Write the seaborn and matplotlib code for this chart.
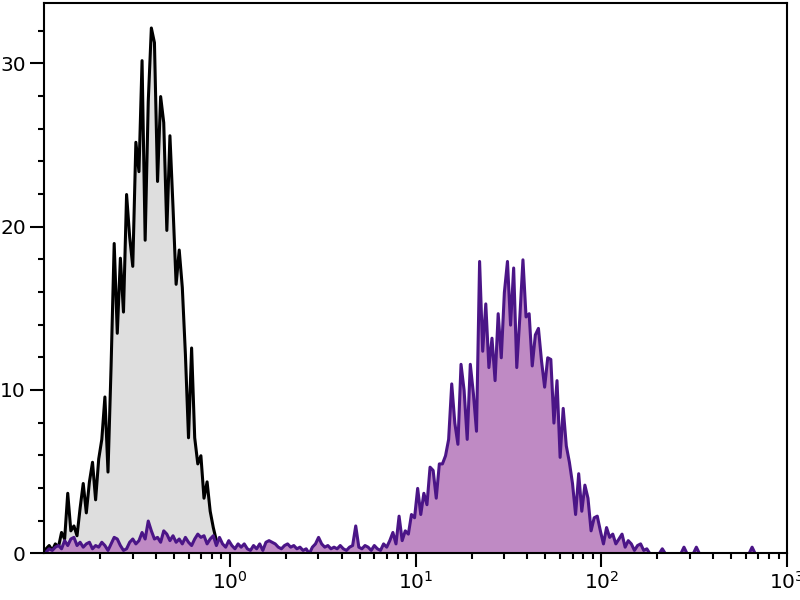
"""
Flow cytometry overlay: isotype control (grey) vs stained sample (purple).

Counts were read off the reference histogram, one value per channel,
60 channels per decade starting at 10^-1.
"""

import matplotlib
matplotlib.use("Agg")
import matplotlib.pyplot as plt
import matplotlib.ticker as mticker
import numpy as np
import seaborn as sns

# ──────────────────────────────────────────────────────────────────────────────
# Data
# ──────────────────────────────────────────────────────────────────────────────
CHANNELS_PER_DECADE = 60
LOG_START = -1

isotype_counts = [
    0.3, 0.5, 0.2, 0.6, 0.4, 1.3, 0.9, 3.7, 1.4, 1.7,
    1.1, 2.8, 4.3, 2.5, 4.4, 5.6, 3.3, 5.8, 7.0, 9.6,
    5.0, 11.5, 19.0, 13.5, 18.1, 14.8, 22.0, 19.4, 17.6, 25.2,
    23.4, 30.2, 19.2, 27.7, 32.2, 31.3, 22.8, 28.0, 26.4, 19.8,
    25.6, 21.2, 16.5, 18.6, 16.3, 12.2, 7.1, 12.6, 7.1, 5.5,
    6.0, 3.4, 4.4, 2.6, 1.6, 0.8, 0.3, 0.0,
]

stained_counts = [
    0.1, 0.3, 0.2, 0.4, 0.5, 0.3, 0.8, 0.5, 0.9, 1.0,
    0.5, 0.7, 0.4, 0.6, 0.7, 0.3, 0.5, 0.4, 0.7, 0.5,
    0.2, 0.6, 1.0, 0.9, 0.5, 0.2, 0.3, 0.7, 0.9, 0.6,
    0.8, 1.3, 0.9, 2.0, 1.4, 0.9, 1.0, 0.7, 1.4, 1.2,
    0.8, 1.1, 0.7, 0.9, 0.6, 1.0, 0.7, 0.5, 0.9, 1.2,
    1.0, 1.1, 0.6, 0.9, 1.1, 0.5, 1.0, 0.6, 0.4, 0.8,
    0.5, 0.3, 0.6, 0.4, 0.6, 0.3, 0.2, 0.5, 0.3, 0.6,
    0.2, 0.7, 0.8, 0.7, 0.6, 0.4, 0.3, 0.5, 0.6, 0.4,
    0.5, 0.3, 0.4, 0.2, 0.3, 0.0, 0.4, 0.6, 1.0, 0.6,
    0.4, 0.5, 0.3, 0.4, 0.3, 0.5, 0.3, 0.2, 0.4, 0.5,
    1.7, 0.4, 0.3, 0.5, 0.4, 0.2, 0.5, 0.3, 0.2, 0.6,
    0.4, 0.8, 1.3, 0.6, 2.3, 0.8, 1.4, 1.2, 2.4, 2.2,
    4.0, 2.4, 3.7, 3.0, 5.3, 5.1, 3.4, 5.5, 5.5, 6.0,
    7.0, 10.4, 8.0, 6.7, 11.6, 10.0, 7.0, 11.6, 9.8, 7.5,
    17.9, 12.4, 15.3, 11.4, 13.2, 10.6, 14.7, 12.0, 16.0, 17.9,
    14.0, 17.5, 11.4, 14.5, 18.0, 14.5, 14.7, 11.5, 13.4, 13.8,
    11.8, 10.2, 12.0, 11.9, 8.0, 10.6, 5.9, 8.9, 6.6, 5.6,
    4.3, 2.4, 4.9, 2.6, 4.2, 3.4, 1.4, 2.2, 2.3, 1.4,
    0.6, 1.6, 1.0, 1.2, 0.6, 0.9, 1.2, 0.4, 0.8, 0.6,
    0.2, 0.5, 0.6, 0.2, 0.3, 0.0, 0.0, 0.0, 0.0, 0.3,
    0.0, 0.0, 0.0, 0.0, 0.0, 0.0, 0.4, 0.0, 0.0, 0.0,
    0.4, 0.0, 0.0, 0.0, 0.0, 0.0, 0.0, 0.0, 0.0, 0.0,
    0.0, 0.0, 0.0, 0.0, 0.0, 0.0, 0.0, 0.0, 0.4, 0.0,
    0.0, 0.0, 0.0, 0.0, 0.0, 0.0, 0.0, 0.0, 0.0, 0.0,
]

x_tick_values = [1, 10, 100, 1000]
y_tick_values = [0, 10, 20, 30]


def channel_grid(n):
    """Bin edges (log10 units) and channel centres (linear units)."""
    edges = LOG_START + np.arange(n + 1) / CHANNELS_PER_DECADE
    centres = 10 ** ((edges[:-1] + edges[1:]) / 2)
    return edges.tolist(), centres


# ──────────────────────────────────────────────────────────────────────────────
# Plot
# ──────────────────────────────────────────────────────────────────────────────
sns.set_style("ticks")
plt.rcParams["font.family"] = ["DejaVu Sans"]

fig = plt.figure(figsize=(8, 6), dpi=100)
ax = fig.add_axes([0.055, 0.078, 0.929, 0.917])

layers = [
    (isotype_counts, "#DEDEDE", "black"),
    (stained_counts, "#BF8AC4", "#4B1587"),
]
for counts, fill_color, line_color in layers:
    edges, centres = channel_grid(len(counts))
    sns.histplot(
        x=centres,
        weights=counts,
        bins=edges,
        log_scale=True,
        element="poly",
        fill=True,
        color=fill_color,
        edgecolor=line_color,
        linewidth=2.2,
        alpha=1,
        ax=ax,
    )

ax.set_xlim(0.1, 1000)
ax.set_ylim(0, 33.7)
ax.set_xlabel("")
ax.set_ylabel("")

ax.xaxis.set_major_locator(mticker.FixedLocator(x_tick_values))
ax.xaxis.set_major_formatter(mticker.LogFormatterSciNotation())
ax.xaxis.set_minor_locator(mticker.LogLocator(base=10, subs=np.arange(2, 10)))
ax.xaxis.set_minor_formatter(mticker.NullFormatter())
ax.yaxis.set_major_locator(mticker.FixedLocator(y_tick_values))
ax.yaxis.set_minor_locator(mticker.MultipleLocator(2))

ax.tick_params(which="major", length=10, width=1.5, labelsize=14.5,
               direction="out", color="black", labelcolor="black", pad=3)
ax.tick_params(which="minor", length=4.5, width=1.5, direction="out",
               color="black")
for spine in ax.spines.values():
    spine.set_linewidth(1.5)
    spine.set_color("black")

plt.savefig("out.png", dpi=100)
plt.close()
